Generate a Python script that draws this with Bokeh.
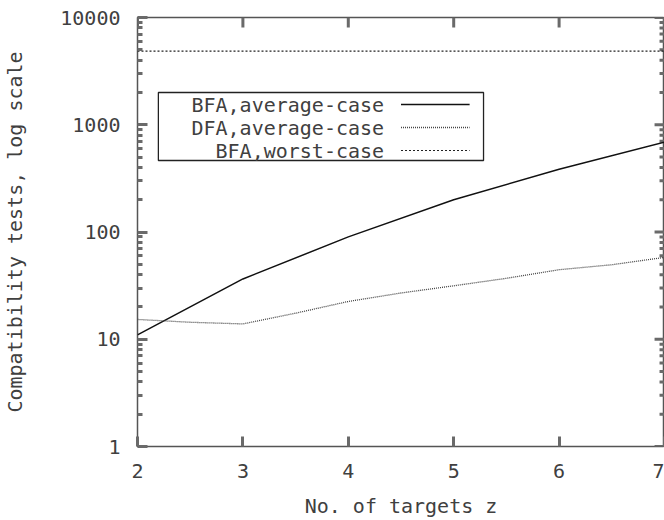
from bokeh.plotting import figure
from bokeh.models import Range1d, FixedTicker, BasicTickFormatter, LinearScale
from bokeh.core.properties import value
from bokeh.embed import file_html
from bokeh.resources import INLINE

# ---------------- data ----------------
z_bfa_avg = [2, 3, 4, 5, 6, 7]
bfa_avg = [11, 36.5, 90, 200, 385, 690]

z_dfa_avg = [2, 2.5, 3, 3.5, 4, 4.5, 5, 5.5, 6, 6.5, 7]
dfa_avg = [15.3, 14.4, 13.9, 17.5, 22.5, 27, 31.5, 37, 44.5, 49.5, 58]

z_bfa_worst = [2, 7]
bfa_worst = [4850, 4850]

x_ticks = [2, 3, 4, 5, 6, 7]
y_ticks = [1, 10, 100, 1000, 10000]
y_minor = [m * 10 ** k for k in range(4) for m in range(2, 10)]

series_labels = ["BFA,average-case", "DFA,average-case", "BFA,worst-case"]
x_label = "No. of targets z"
y_label = "Compatibility tests, log scale"

# ---------------- styling ----------------
FONT = "DejaVu Sans Mono"
FS = "20px"
TXT = "#404040"
TICK = "#6a6a6a"
MAJ, MIN = 10, 5

W, H = 664, 520
LEFT, RIGHT, TOP, BOTTOM = 134, 0, 17, 74
FW, FH = W - LEFT - RIGHT, H - TOP - BOTTOM

p = figure(width=W, height=H, x_range=Range1d(2, 7), y_range=Range1d(1, 10000),
           y_axis_type="log", output_backend="svg", toolbar_location=None,
           min_border_left=LEFT, min_border_right=RIGHT,
           min_border_top=TOP, min_border_bottom=BOTTOM)
p.grid.visible = False
p.background_fill_color = "white"
p.border_fill_color = "white"
p.outline_line_color = "#555555"
p.outline_line_width = 1.5

xt = FixedTicker(ticks=x_ticks)
yt = FixedTicker(ticks=y_ticks, minor_ticks=y_minor)


def style(ax):
    ax.axis_line_color = None
    ax.major_tick_in = MAJ
    ax.major_tick_out = 0
    ax.minor_tick_in = MIN
    ax.minor_tick_out = 0
    ax.major_tick_line_color = TICK
    ax.major_tick_line_width = 3
    ax.minor_tick_line_color = TICK
    ax.minor_tick_line_width = 3
    ax.major_label_text_font = FONT
    ax.major_label_text_color = TXT
    ax.major_label_text_font_size = FS
    ax.axis_label_text_font = FONT
    ax.axis_label_text_font_style = "normal"
    ax.axis_label_text_color = TXT
    ax.axis_label_text_font_size = FS


xa = p.xaxis[0]
xa.ticker = xt
style(xa)
xa.minor_tick_line_color = None
xa.major_label_standoff = 17
xa.axis_label = x_label
xa.axis_label_standoff = 13

ya = p.yaxis[0]
ya.ticker = yt
ya.formatter = BasicTickFormatter()
style(ya)
ya.major_label_standoff = 17
ya.axis_label = y_label
ya.axis_label_standoff = 30

# ---------------- frame pixel space (mirrored ticks and the key) ----------------
p.extra_x_ranges = {"px": Range1d(0, FW)}
p.extra_y_ranges = {"px": Range1d(0, FH)}
p.extra_x_scales = {"px": LinearScale()}
p.extra_y_scales = {"px": LinearScale()}

nx, ny, nm = len(x_ticks), len(y_ticks), len(y_minor)
p.segment(x0=x_ticks, x1=x_ticks, y0=[FH] * nx, y1=[FH - MAJ] * nx,
          line_color=TICK, line_width=3, y_range_name="px")
p.segment(x0=[FW] * ny, x1=[FW - MAJ] * ny, y0=y_ticks, y1=y_ticks,
          line_color=TICK, line_width=3, x_range_name="px")
p.segment(x0=[FW] * nm, x1=[FW - MIN] * nm, y0=y_minor, y1=y_minor,
          line_color=TICK, line_width=3, x_range_name="px")

# ---------------- series ----------------
p.line(z_bfa_avg, bfa_avg, line_color="#111111", line_width=1.5)
p.line(z_dfa_avg, dfa_avg, line_color="#444444", line_width=1.3, line_dash="1 1")
p.line(z_bfa_worst, bfa_worst, line_color="#222222", line_width=1.2, line_dash="2 2")

# ---------------- gnuplot-style key ----------------
key_left, key_right, key_top, key_bottom = 21, 348, 354, 286
rows = [342, 319, 296]
p.quad(left=[key_left], right=[key_right], top=[key_top], bottom=[key_bottom],
       fill_alpha=0, line_color="#222222", line_width=1.3,
       x_range_name="px", y_range_name="px")
p.text(x=[248] * 3, y=rows, text=series_labels, text_align="right",
       text_baseline="middle", text_font=value(FONT), text_font_size=FS,
       text_color=TXT, x_range_name="px", y_range_name="px")
p.line([265, 334], [rows[0]] * 2, line_color="#111111", line_width=1.5,
       x_range_name="px", y_range_name="px")
p.line([265, 334], [rows[1]] * 2, line_color="#444444", line_width=1.3,
       line_dash="1 1", x_range_name="px", y_range_name="px")
p.line([265, 334], [rows[2]] * 2, line_color="#222222", line_width=1.2,
       line_dash="2 2", x_range_name="px", y_range_name="px")

open("out.html", "w").write(file_html(p, INLINE))
